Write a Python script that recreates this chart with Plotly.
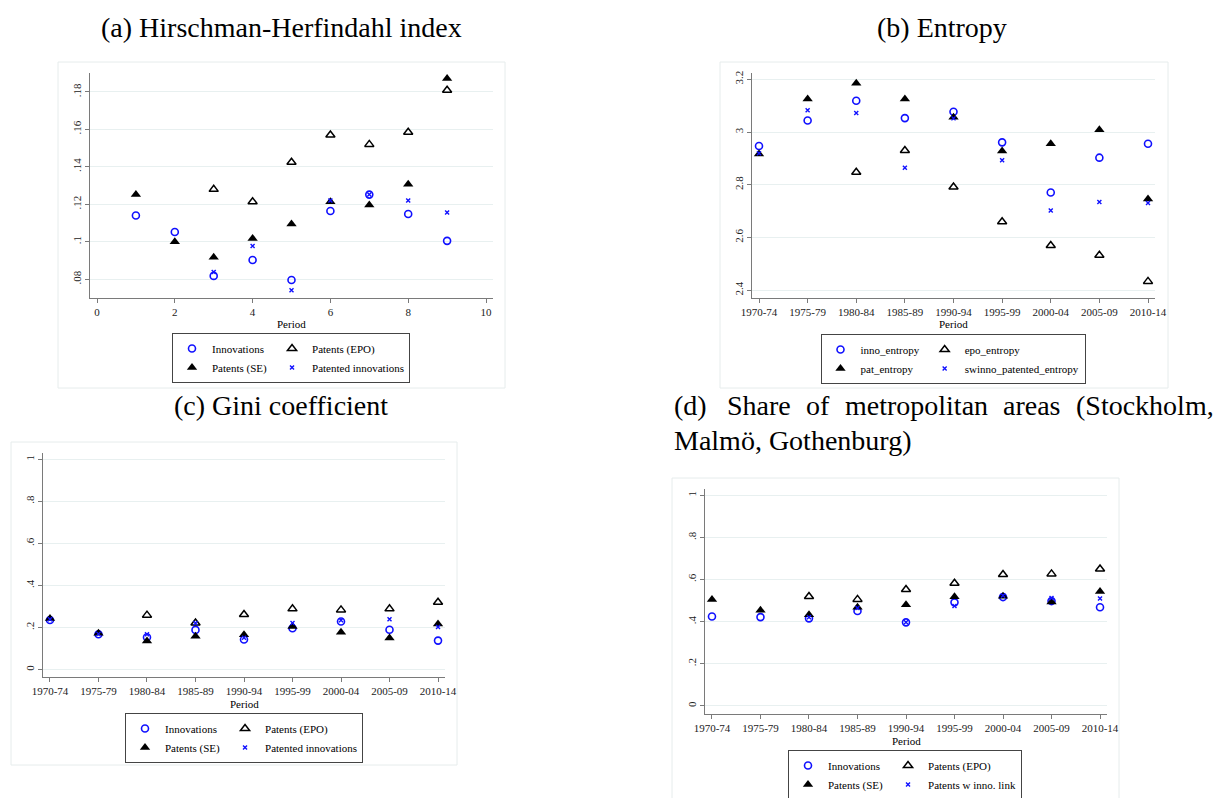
import plotly.graph_objects as go

W, H = 1215, 798
FONT = "Liberation Serif"
BLUE = "#1010ff"

# ---------------- data ----------------
periods_num = [1, 2, 3, 4, 5, 6, 7, 8, 9]
periods = ["1970-74", "1975-79", "1980-84", "1985-89", "1990-94",
           "1995-99", "2000-04", "2005-09", "2010-14"]

# (a) Hirschman-Herfindahl index
hhi_innov = [0.1140, 0.1052, 0.0818, 0.0903, 0.0796, 0.1164, 0.1252, 0.1148, 0.1005]
hhi_epo = [None, None, 0.1280, 0.1214, 0.1425, 0.1570, 0.1520, 0.1585, 0.1809]
hhi_se = [0.1253, 0.1000, 0.0917, 0.1018, 0.1095, 0.1214, 0.1196, 0.1307, 0.1871]
hhi_pat_innov = [None, None, 0.0839, 0.0978, 0.0741, 0.1221, 0.1252, 0.1221, 0.1156]

# (b) Entropy
ent_inno = [2.947, 3.044, 3.119, 3.053, 3.077, 2.961, 2.771, 2.903, 2.956]
ent_epo = [None, None, 2.848, 2.930, 2.792, 2.660, 2.570, 2.533, 2.434]
ent_pat = [2.917, 3.125, 3.185, 3.125, 3.056, 2.928, 2.956, 3.009, 2.746]
ent_swinno = [2.920, 3.083, 3.072, 2.865, 3.052, 2.893, 2.703, 2.735, 2.731]

# (c) Gini coefficient
gini_innov = [0.236, 0.168, 0.154, 0.189, 0.143, 0.197, 0.229, 0.190, 0.138]
gini_epo = [None, None, 0.259, 0.222, 0.262, 0.289, 0.284, 0.289, 0.320]
gini_se = [0.243, 0.173, 0.136, 0.159, 0.166, 0.205, 0.178, 0.151, 0.217]
gini_pat_innov = [0.240, 0.170, 0.168, 0.222, 0.152, 0.222, 0.235, 0.240, 0.203]

# (d) Share of metropolitan areas
met_innov = [0.425, 0.422, 0.416, 0.451, 0.397, 0.492, 0.517, 0.498, 0.469]
met_epo = [None, None, 0.520, 0.506, 0.553, 0.583, 0.624, 0.627, 0.650]
met_se = [0.506, 0.454, 0.433, 0.469, 0.480, 0.518, 0.521, 0.494, 0.544]
met_link = [None, None, 0.421, 0.465, 0.397, 0.475, 0.525, 0.513, 0.510]

hhi_ticks = [0.08, 0.10, 0.12, 0.14, 0.16, 0.18]
hhi_ticktext = [".08", ".1", ".12", ".14", ".16", ".18"]
ent_ticks = [2.4, 2.6, 2.8, 3.0, 3.2]
ent_ticktext = ["2.4", "2.6", "2.8", "3", "3.2"]
share_ticks = [0, 0.2, 0.4, 0.6, 0.8, 1.0]
share_ticktext = ["0", ".2", ".4", ".6", ".8", "1"]
xa_ticks = [0, 2, 4, 6, 8, 10]

# ---------------- helpers ----------------
def fx(px):
    return px / W

def fy(py):
    return 1 - py / H

def marker_style(kind):
    if kind == "circle":
        return dict(symbol="circle-open", size=7, color=BLUE, line=dict(width=1.6, color=BLUE))
    if kind == "tri_open":
        return dict(symbol="triangle-up-open", size=8, color="black", line=dict(width=1.5, color="black"))
    if kind == "tri":
        return dict(symbol="triangle-up", size=9, color="black", line=dict(width=0))
    return dict(symbol="x-thin-open", size=4, color=BLUE, line=dict(width=1.4, color=BLUE))

fig = go.Figure()

panels = [
    ("", periods_num, [("Innovations", hhi_innov, "circle", "g1"),
                       ("Patents (EPO)", hhi_epo, "tri_open", "g2"),
                       ("Patents (SE)", hhi_se, "tri", "g1"),
                       ("Patented innovations", hhi_pat_innov, "x", "g2")], "legend"),
    ("2", periods, [("inno_entropy", ent_inno, "circle", "g1"),
                    ("epo_entropy", ent_epo, "tri_open", "g2"),
                    ("pat_entropy", ent_pat, "tri", "g1"),
                    ("swinno_patented_entropy", ent_swinno, "x", "g2")], "legend2"),
    ("3", periods, [("Innovations", gini_innov, "circle", "g1"),
                    ("Patents (EPO)", gini_epo, "tri_open", "g2"),
                    ("Patents (SE)", gini_se, "tri", "g1"),
                    ("Patented innovations", gini_pat_innov, "x", "g2")], "legend3"),
    ("4", periods, [("Innovations", met_innov, "circle", "g1"),
                    ("Patents (EPO)", met_epo, "tri_open", "g2"),
                    ("Patents (SE)", met_se, "tri", "g1"),
                    ("Patents w inno. link", met_link, "x", "g2")], "legend4"),
]

for suf, xs, series, leg in panels:
    for name, ys, kind, grp in series:
        fig.add_trace(go.Scatter(
            x=xs, y=ys, mode="markers", name=name,
            marker=marker_style(kind),
            xaxis="x" + suf, yaxis="y" + suf,
            legend=leg, legendgroup=leg + grp,
            cliponaxis=False,
        ))

AX_COL = "#7a7a7a"
GRID_COL = "#e8f0f0"
tickfont = dict(family=FONT, size=11, color="#222")

def xaxis_cfg(dom, rng, cat, tickvals=None, anchor="y"):
    d = dict(domain=[fx(dom[0]), fx(dom[1])], range=rng, anchor=anchor,
             showline=True, linecolor=AX_COL, linewidth=1, automargin=False,
             ticks="outside", ticklen=4, tickcolor=AX_COL, tickwidth=1,
             showgrid=False, zeroline=False, tickfont=tickfont, fixedrange=True)
    if cat:
        d.update(type="category", categoryorder="array", categoryarray=periods)
    else:
        d.update(tickmode="array", tickvals=tickvals, ticktext=[str(v) for v in tickvals])
    return d

def yaxis_cfg(dom, rng, tv, tt, anchor="x"):
    return dict(domain=[fy(dom[1]), fy(dom[0])], range=rng, anchor=anchor,
                showline=True, linecolor=AX_COL, linewidth=1, automargin=False,
                ticks="outside", ticklen=4, tickcolor=AX_COL, tickwidth=1,
                showgrid=True, gridcolor=GRID_COL, gridwidth=1, zeroline=False,
                tickmode="array", tickvals=tv, ticktext=tt, tickangle=-90,
                tickfont=tickfont, fixedrange=True)

layout = dict(
    width=W, height=H, margin=dict(l=0, r=0, t=0, b=0, pad=0, autoexpand=False),
    paper_bgcolor="white", plot_bgcolor="white",
    font=dict(family=FONT, size=11, color="black"),
    xaxis=xaxis_cfg((90, 493), [-0.18, 10.18], False, xa_ticks, "y"),
    yaxis=yaxis_cfg((73, 298), [0.0700, 0.1901], hhi_ticks, hhi_ticktext, "x"),
    xaxis2=xaxis_cfg((752, 1155), [-0.144, 8.144], True, anchor="y2"),
    yaxis2=yaxis_cfg((73, 298), [2.371, 3.224], ent_ticks, ent_ticktext, "x2"),
    xaxis3=xaxis_cfg((43, 445), [-0.144, 8.144], True, anchor="y3"),
    yaxis3=yaxis_cfg((453, 677), [-0.035, 1.030], share_ticks, share_ticktext, "x3"),
    xaxis4=xaxis_cfg((705, 1107), [-0.144, 8.144], True, anchor="y4"),
    yaxis4=yaxis_cfg((489, 714), [-0.038, 1.030], share_ticks, share_ticktext, "x4"),
)

def legend_cfg(cx, top):
    return dict(x=fx(cx), y=fy(top), xanchor="center", yanchor="top",
                orientation="h", traceorder="grouped", tracegroupgap=0,
                bgcolor="white", bordercolor="#444", borderwidth=1,
                itemwidth=30, font=dict(family=FONT, size=11, color="black"),
                itemclick=False, itemdoubleclick=False)

layout["legend"] = legend_cfg(291, 333)
layout["legend2"] = legend_cfg(953, 334)
layout["legend3"] = legend_cfg(244, 713)
layout["legend4"] = legend_cfg(905, 750)

# panel frames
frames = [(58, 62, 505, 388), (720, 62, 1168, 388), (11, 442, 457, 765), (672, 478, 1119, 800)]
shapes = []
for x0, y0, x1, y1 in frames:
    shapes.append(dict(type="rect", xref="paper", yref="paper",
                       x0=fx(x0), x1=fx(x1), y0=fy(y1), y1=fy(y0),
                       line=dict(color="#e6ecec", width=1), fillcolor="rgba(0,0,0,0)", layer="below"))
layout["shapes"] = shapes

TFONT = dict(family=FONT, size=28, color="black")
ann = []
ann.append(dict(text="(a) Hirschman-Herfindahl index", x=fx(281), y=fy(27), xref="paper", yref="paper",
                xanchor="center", yanchor="middle", showarrow=False, font=TFONT))
ann.append(dict(text="(b) Entropy", x=fx(942), y=fy(27), xref="paper", yref="paper",
                xanchor="center", yanchor="middle", showarrow=False, font=TFONT))
ann.append(dict(text="(c) Gini coefficient", x=fx(281), y=fy(405), xref="paper", yref="paper",
                xanchor="center", yanchor="middle", showarrow=False, font=TFONT))
# (d) justified first line
d_words = [("(d)", 672), ("Share", 725), ("of", 804), ("metropolitan", 843), ("areas", 1001), ("(Stockholm,", 1074)]
for wd, xl in d_words:
    ann.append(dict(text=wd, x=fx(xl), y=fy(405), xref="paper", yref="paper",
                    xanchor="left", yanchor="middle", showarrow=False, font=TFONT))
ann.append(dict(text="Malmö, Gothenburg)", x=fx(672), y=fy(440), xref="paper", yref="paper",
                xanchor="left", yanchor="middle", showarrow=False, font=TFONT))

# axis titles
for cx, cy in [(291, 324), (953, 324), (244, 704), (906, 741)]:
    ann.append(dict(text="Period", x=fx(cx), y=fy(cy), xref="paper", yref="paper",
                    xanchor="center", yanchor="middle", showarrow=False,
                    font=dict(family=FONT, size=11, color="black")))
layout["annotations"] = ann

fig.update_layout(**layout)
fig.write_html("out.html")
